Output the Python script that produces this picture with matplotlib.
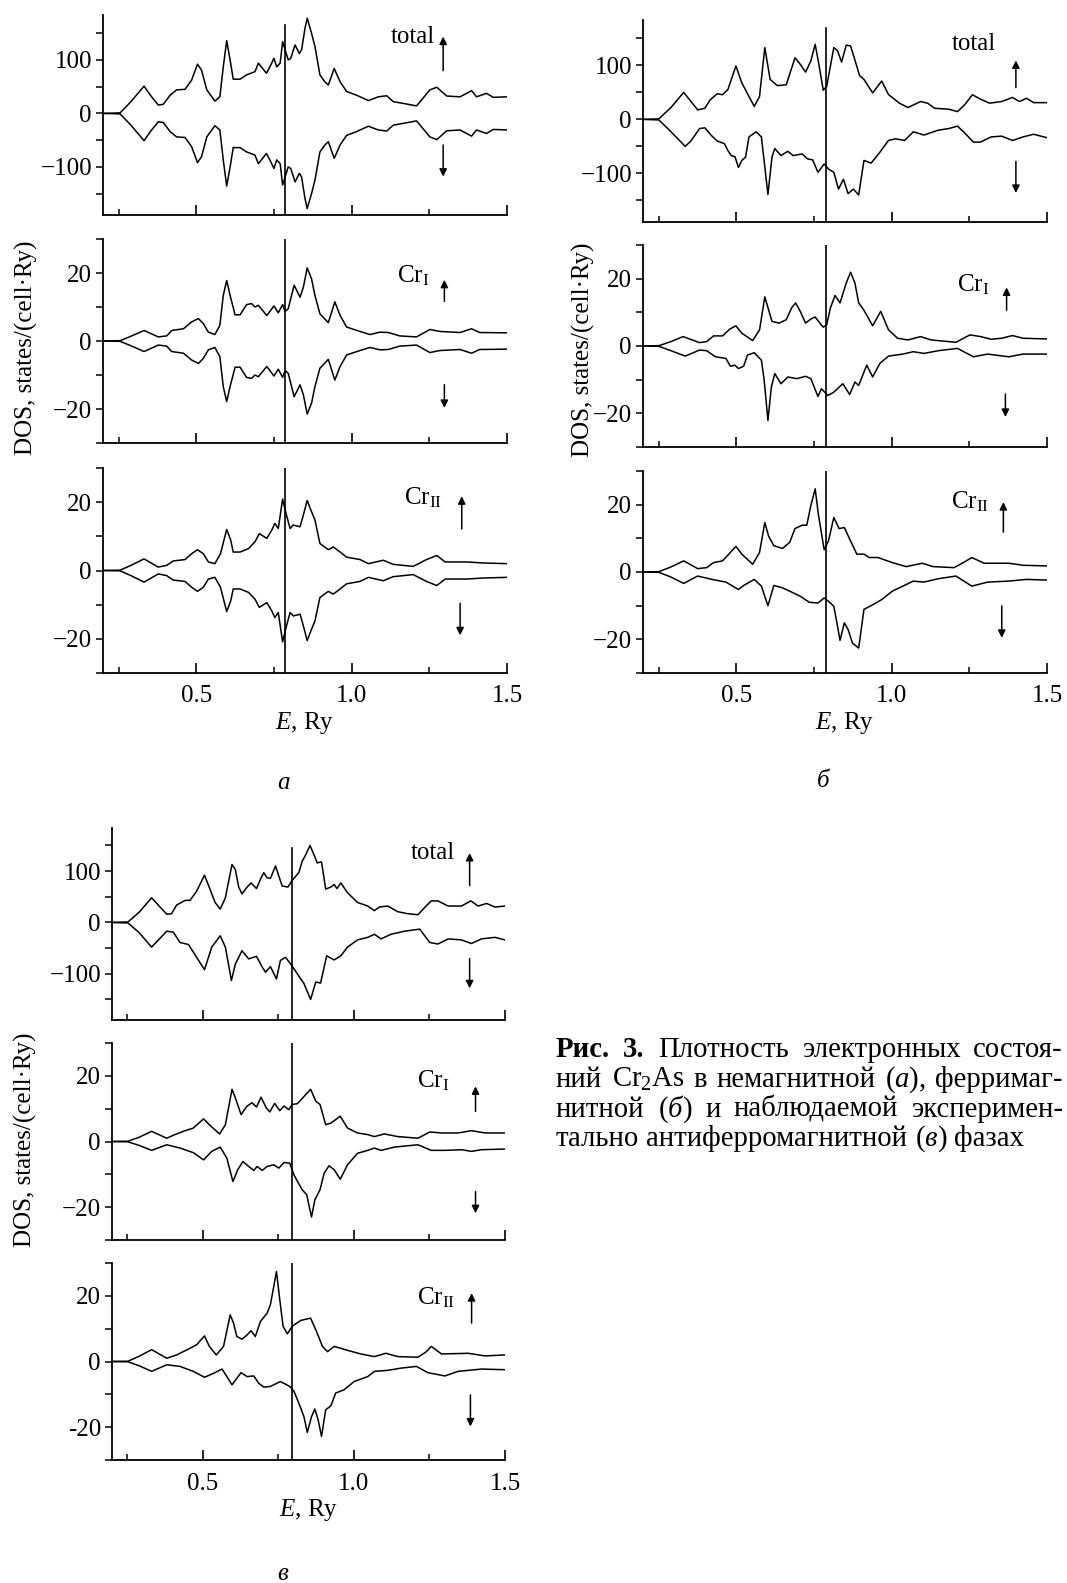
import matplotlib
matplotlib.use('Agg')
import matplotlib.pyplot as plt

plt.rcParams['font.family'] = ['Liberation Serif', 'DejaVu Serif']
plt.rcParams['mathtext.fontset'] = 'custom'
plt.rcParams['mathtext.rm'] = 'Liberation Serif'
plt.rcParams['mathtext.it'] = 'Liberation Serif:italic'
plt.rcParams['mathtext.bf'] = 'Liberation Serif:bold'

# ---------------- data (E in Ry, DOS in states/(cell*Ry)) ----------------
# panel a: nonmagnetic
a_tot_E = [0.20, 0.255, 0.29, 0.332, 0.355, 0.378, 0.394, 0.416, 0.437, 0.464,
           0.485, 0.504, 0.517, 0.534, 0.560, 0.576, 0.587, 0.598, 0.609, 0.619,
           0.641, 0.662, 0.689, 0.700, 0.726, 0.737, 0.750, 0.759, 0.770, 0.778,
           0.786, 0.796, 0.804, 0.818, 0.832, 0.839, 0.850, 0.857, 0.871, 0.882,
           0.898, 0.914, 0.925, 0.944, 0.963, 0.984, 1.016, 1.054, 1.086, 1.113,
           1.134, 1.177, 1.209, 1.252, 1.274, 1.306, 1.349, 1.386, 1.402, 1.434,
           1.456, 1.50]
a_tot_up = [0, 1, 22, 51, 32, 15.6, 17, 34, 44, 45,
            62, 92, 81, 44, 23, 31, 87, 136, 100, 64,
            64, 72, 78, 94, 75, 87, 103, 87, 94, 134,
            119, 100, 103, 128, 112, 119, 159, 178, 150, 125,
            72, 59, 53, 84, 59, 41, 34, 24, 31, 33,
            22, 17.5, 14, 44, 49, 32.5, 31, 42.5, 31, 37.5,
            30, 31]
a_tot_dn = [0, -1, -22, -51, -32, -15.6, -17, -34, -44, -45,
            -62, -92, -81, -44, -23, -31, -87, -136, -100, -64,
            -64, -72, -78, -94, -75, -87, -103, -87, -94, -134,
            -119, -100, -103, -128, -112, -119, -159, -178, -150, -125,
            -72, -59, -53, -84, -59, -41, -34, -24, -31, -33,
            -22, -17.5, -14, -44, -49, -32.5, -31, -42.5, -31, -37.5,
            -30, -31]

a_cr1_E = [0.20, 0.255, 0.29, 0.332, 0.378, 0.405, 0.421, 0.459, 0.485, 0.507,
           0.523, 0.539, 0.560, 0.576, 0.587, 0.598, 0.609, 0.625, 0.641, 0.662,
           0.678, 0.689, 0.700, 0.727, 0.737, 0.750, 0.764, 0.778, 0.786, 0.796,
           0.815, 0.834, 0.845, 0.857, 0.871, 0.882, 0.898, 0.925, 0.946, 0.963,
           0.984, 1.027, 1.059, 1.091, 1.118, 1.155, 1.209, 1.252, 1.284, 1.349,
           1.386, 1.412, 1.50]
a_cr1_up = [0, 0.1, 1.4, 3.1, 1.2, 1.5, 3.1, 3.6, 5.6, 6.6,
            5.1, 2.6, 1.9, 4.6, 13.4, 17.8, 13.4, 7.7, 7.7, 10.7,
            11, 10, 10.5, 7.5, 8.7, 10.3, 8.3, 10.7, 8.7, 9.5,
            16.4, 12.9, 15.9, 21.5, 18.3, 13.4, 8.0, 5.4, 11.5, 7.5,
            4.1, 2.8, 1.9, 2.6, 2.5, 1.5, 1.2, 3.4, 2.8, 2.5,
            3.6, 2.5, 2.4]
a_cr1_dn = [0, -0.1, -1.4, -3.1, -1.2, -1.5, -3.1, -3.6, -5.6, -6.6,
            -5.1, -2.6, -1.9, -4.6, -13.4, -17.8, -13.4, -7.7, -7.7, -10.7,
            -11, -10, -10.5, -7.5, -8.7, -10.3, -8.3, -10.7, -8.7, -9.5,
            -16.4, -12.9, -15.9, -21.5, -18.3, -13.4, -8.0, -5.4, -11.5, -7.5,
            -4.1, -2.8, -1.9, -2.6, -2.5, -1.5, -1.2, -3.4, -2.8, -2.5,
            -3.6, -2.5, -2.4]

a_cr2_E = [0.20, 0.255, 0.29, 0.332, 0.378, 0.405, 0.426, 0.464, 0.485, 0.504,
           0.523, 0.539, 0.560, 0.578, 0.598, 0.611, 0.619, 0.641, 0.668, 0.689,
           0.703, 0.727, 0.743, 0.753, 0.764, 0.778, 0.789, 0.802, 0.812, 0.834,
           0.845, 0.857, 0.871, 0.882, 0.898, 0.925, 0.941, 0.963, 0.984, 1.027,
           1.054, 1.102, 1.134, 1.198, 1.241, 1.274, 1.301, 1.370, 1.424, 1.50]
a_cr2_up = [0, 0.1, 1.5, 3.4, 1.0, 1.5, 2.8, 3.2, 4.9, 6.1,
            4.9, 2.5, 2.0, 4.9, 12.0, 8.9, 5.4, 5.4, 6.4, 8.4,
            10.8, 9.4, 11.8, 13.8, 12.3, 20.9, 16.7, 12.3, 13.3, 12.8,
            16.3, 20.5, 17.2, 14.8, 7.9, 6.1, 6.9, 5.4, 3.9, 3.2,
            2.0, 3.0, 1.8, 1.2, 3.2, 4.4, 2.5, 2.5, 2.2, 2.0]
a_cr2_dn = [0, -0.1, -1.5, -3.4, -1.0, -1.5, -2.8, -3.2, -4.9, -6.1,
            -4.9, -2.5, -2.0, -4.9, -12.0, -8.9, -5.4, -5.4, -6.4, -8.4,
            -10.8, -9.4, -11.8, -13.8, -12.3, -20.9, -16.7, -12.3, -13.3, -12.8,
            -16.3, -20.5, -17.2, -14.8, -7.9, -6.1, -6.9, -5.4, -3.9, -3.2,
            -2.0, -3.0, -1.8, -1.2, -3.2, -4.4, -2.5, -2.5, -2.2, -2.0]

# panel b: ferrimagnetic
b_tot_up_E = [0.20, 0.251, 0.29, 0.331, 0.376, 0.399, 0.416, 0.439, 0.456, 0.473,
              0.499, 0.518, 0.558, 0.575, 0.592, 0.609, 0.632, 0.661, 0.689, 0.706,
              0.723, 0.740, 0.754, 0.765, 0.780, 0.791, 0.814, 0.826, 0.839, 0.854,
              0.868, 0.886, 0.897, 0.911, 0.939, 0.968, 0.990, 1.025, 1.053, 1.093,
              1.116, 1.138, 1.184, 1.212, 1.235, 1.260, 1.286, 1.315, 1.354, 1.389,
              1.411, 1.434, 1.457, 1.50]
b_tot_up = [0, 1, 22, 50, 17.5, 20.6, 36, 47.5, 45.6, 55,
            99, 67.5, 24, 42.5, 133, 74, 62.5, 64, 114, 102,
            87.5, 108, 139, 105, 54, 61, 133, 127, 106, 137.5,
            136, 102, 81, 74, 49, 71, 46, 30, 22, 33,
            30, 20.6, 18.8, 14.4, 27, 45.6, 37.5, 30, 33, 40.6,
            33, 39, 31, 31]
b_tot_dn_E = [0.20, 0.251, 0.285, 0.336, 0.354, 0.382, 0.399, 0.422, 0.439, 0.462,
              0.473, 0.484, 0.496, 0.507, 0.518, 0.530, 0.541, 0.564, 0.581, 0.602,
              0.615, 0.624, 0.644, 0.666, 0.683, 0.712, 0.729, 0.746, 0.763, 0.783,
              0.797, 0.814, 0.829, 0.845, 0.860, 0.877, 0.894, 0.911, 0.934, 0.962,
              0.990, 1.013, 1.042, 1.070, 1.104, 1.150, 1.184, 1.212, 1.235, 1.263,
              1.286, 1.320, 1.354, 1.389, 1.423, 1.457, 1.50]
b_tot_dn = [0, -1, -20, -50, -40, -17, -15.6, -31, -40, -45,
            -57.5, -67, -69, -89, -76, -70, -32.5, -23, -32.5, -139,
            -70, -54, -67, -59, -67, -64, -73, -75, -98, -82.5,
            -92, -98, -129, -111, -137.5, -129, -140, -76, -81, -61,
            -39, -36, -39, -23, -29, -20, -17, -12.5, -25, -42,
            -42, -32.5, -31, -39, -32.5, -27.5, -34]

b_cr1_up_E = [0.20, 0.251, 0.29, 0.329, 0.382, 0.405, 0.427, 0.456, 0.479, 0.499,
              0.518, 0.553, 0.575, 0.592, 0.604, 0.615, 0.638, 0.661, 0.678, 0.691,
              0.706, 0.723, 0.740, 0.754, 0.765, 0.780, 0.791, 0.803, 0.818, 0.834,
              0.854, 0.868, 0.882, 0.894, 0.911, 0.939, 0.965, 0.990, 1.019, 1.053,
              1.093, 1.127, 1.207, 1.252, 1.286, 1.320, 1.354, 1.389, 1.423, 1.50]
b_cr1_up = [0, 0.1, 1.3, 2.8, 1.0, 1.3, 3.0, 3.0, 5.0, 6.0,
            3.8, 1.6, 4.8, 14.6, 10.8, 7.3, 6.8, 7.8, 11.3, 12.8,
            10.3, 6.8, 8.0, 8.6, 7.3, 5.6, 6.3, 11.3, 15.0, 12.8,
            18.7, 21.9, 18.7, 12.8, 10.6, 6.0, 10.3, 4.8, 2.3, 1.8,
            2.8, 1.8, 1.1, 3.3, 2.8, 2.0, 2.3, 3.1, 2.3, 2.1]
b_cr1_dn_E = [0.20, 0.251, 0.29, 0.336, 0.382, 0.405, 0.433, 0.467, 0.481, 0.496,
              0.507, 0.524, 0.536, 0.558, 0.581, 0.590, 0.602, 0.613, 0.624, 0.644,
              0.666, 0.695, 0.723, 0.740, 0.763, 0.774, 0.795, 0.814, 0.843, 0.865,
              0.882, 0.894, 0.920, 0.939, 0.962, 0.990, 1.036, 1.070, 1.104, 1.150,
              1.212, 1.263, 1.309, 1.377, 1.423, 1.50]
b_cr1_dn = [0, -0.1, -1.4, -3.0, -1.2, -1.4, -3.2, -3.7, -6.0, -5.7,
            -6.7, -6.0, -2.7, -2.0, -4.2, -10.2, -22.1, -12.2, -8.2, -11.2,
            -9.2, -9.7, -9.0, -9.7, -15.0, -12.7, -14.7, -13.7, -11.2, -14.4,
            -10.7, -11.7, -5.7, -9.2, -5.2, -3.0, -2.4, -1.7, -2.2, -1.4,
            -0.7, -3.2, -2.4, -3.2, -2.4, -2.4]

b_cr2_up_E = [0.20, 0.251, 0.29, 0.331, 0.376, 0.405, 0.427, 0.456, 0.499, 0.518,
              0.553, 0.575, 0.592, 0.604, 0.621, 0.649, 0.672, 0.689, 0.712, 0.727,
              0.740, 0.754, 0.765, 0.783, 0.797, 0.814, 0.831, 0.848, 0.865, 0.888,
              0.911, 0.928, 0.956, 1.002, 1.047, 1.099, 1.133, 1.201, 1.235, 1.258,
              1.298, 1.377, 1.423, 1.50]
b_cr2_up = [0, 0.1, 1.5, 3.3, 1.0, 1.3, 2.8, 3.3, 7.6, 5.3,
            2.3, 5.8, 14.7, 10.7, 7.8, 7.0, 8.8, 12.9, 13.9, 13.9,
            19.7, 24.7, 16.7, 6.6, 9.3, 16.2, 12.9, 13.2, 9.8, 5.3,
            5.3, 4.3, 4.3, 2.8, 1.6, 2.6, 1.6, 1.3, 3.0, 4.3,
            2.6, 2.6, 2.0, 1.8]
b_cr2_dn_E = [0.20, 0.251, 0.29, 0.331, 0.376, 0.422, 0.467, 0.507, 0.524, 0.558,
              0.581, 0.602, 0.621, 0.649, 0.672, 0.706, 0.735, 0.763, 0.783, 0.803,
              0.814, 0.822, 0.834, 0.848, 0.860, 0.874, 0.894, 0.911, 0.934, 0.968,
              1.002, 1.036, 1.070, 1.104, 1.150, 1.207, 1.258, 1.309, 1.377, 1.434,
              1.50]
b_cr2_dn = [0, -0.1, -1.5, -3.4, -1.2, -2.2, -3.0, -5.2, -4.0, -2.2,
            -4.2, -10, -4.0, -4.7, -5.7, -7.2, -9.0, -9.2, -7.7, -9.2,
            -10.2, -14.1, -20.3, -15.1, -17.1, -21.1, -22.6, -11.1, -10.0, -8.2,
            -5.7, -4.2, -2.7, -3.0, -2.0, -1.2, -4.2, -3.0, -2.7, -2.2,
            -2.4]

# panel v: antiferromagnetic (experimental)
v_tot_up_E = [0.20, 0.253, 0.29, 0.331, 0.381, 0.397, 0.414, 0.442, 0.458, 0.480,
              0.506, 0.522, 0.541, 0.558, 0.575, 0.597, 0.608, 0.619, 0.630, 0.647,
              0.660, 0.678, 0.691, 0.702, 0.713, 0.724, 0.741, 0.752, 0.763, 0.782,
              0.796, 0.818, 0.829, 0.841, 0.855, 0.868, 0.879, 0.893, 0.907, 0.924,
              0.935, 0.944, 0.957, 0.979, 1.012, 1.046, 1.068, 1.084, 1.112, 1.145,
              1.179, 1.212, 1.234, 1.256, 1.278, 1.312, 1.356, 1.387, 1.411, 1.439,
              1.467, 1.50]
v_tot_up = [0, 1, 20, 48, 16, 17, 34, 43, 43, 61,
            92, 68, 39, 26, 48, 113, 103, 69, 56, 69,
            77, 66, 84, 97, 87, 86, 110, 90, 71, 69,
            82, 97, 119, 132, 150, 132, 116, 118, 65, 69,
            74, 66, 77, 58, 39, 32, 23, 30, 32, 21,
            17, 15, 29, 42, 42, 32, 32, 42, 32, 37,
            30, 32]
v_tot_dn_E = [0.20, 0.253, 0.29, 0.331, 0.381, 0.403, 0.425, 0.453, 0.480, 0.506,
              0.530, 0.558, 0.575, 0.595, 0.608, 0.630, 0.652, 0.678, 0.697, 0.708,
              0.724, 0.744, 0.757, 0.774, 0.791, 0.813, 0.835, 0.857, 0.874, 0.890,
              0.910, 0.935, 0.957, 0.979, 1.012, 1.046, 1.068, 1.090, 1.123, 1.168,
              1.218, 1.251, 1.278, 1.312, 1.356, 1.389, 1.422, 1.467, 1.50]
v_tot_dn = [0, -1, -20, -48, -17, -19, -39, -43, -68, -92,
            -48, -26, -48, -113, -81, -55, -71, -66, -87, -97,
            -86, -110, -74, -68, -81, -100, -119, -150, -116, -118,
            -65, -73, -65, -48, -34, -29, -23, -32, -23, -17,
            -13, -39, -42, -32, -34, -41, -32, -29, -34]

v_cr1_up_E = [0.20, 0.253, 0.29, 0.331, 0.381, 0.408, 0.442, 0.469, 0.503, 0.522,
              0.556, 0.575, 0.597, 0.608, 0.627, 0.647, 0.663, 0.678, 0.693, 0.710,
              0.722, 0.738, 0.755, 0.769, 0.785, 0.796, 0.813, 0.829, 0.857, 0.874,
              0.888, 0.907, 0.924, 0.955, 0.979, 1.012, 1.046, 1.068, 1.101, 1.145,
              1.212, 1.251, 1.290, 1.345, 1.389, 1.434, 1.50]
v_cr1_up = [0, 0.1, 1.3, 3.1, 1.0, 2.1, 3.3, 4.1, 6.9, 5.1,
            2.3, 5.1, 15.9, 13.3, 8.2, 10.8, 11.8, 10.5, 13.5, 10.3,
            9.0, 11.6, 9.4, 10.8, 9.7, 11.3, 11.5, 13.1, 15.9, 12.3,
            11.3, 5.1, 5.6, 7.7, 4.1, 2.6, 2.1, 1.5, 2.3, 1.5,
            1.0, 2.9, 2.6, 2.6, 3.3, 2.6, 2.6]
v_cr1_dn_E = [0.20, 0.253, 0.29, 0.331, 0.381, 0.425, 0.469, 0.503, 0.530, 0.558,
              0.580, 0.600, 0.616, 0.633, 0.652, 0.669, 0.680, 0.697, 0.713, 0.735,
              0.752, 0.769, 0.788, 0.802, 0.829, 0.844, 0.860, 0.871, 0.888, 0.902,
              0.918, 0.935, 0.955, 0.979, 1.012, 1.046, 1.068, 1.090, 1.134, 1.212,
              1.256, 1.301, 1.356, 1.389, 1.422, 1.50]
v_cr1_dn = [0, -0.1, -1.2, -2.7, -1.0, -2.0, -3.4, -5.6, -3.0, -1.7,
            -5.1, -12.2, -8.6, -6.1, -7.6, -8.8, -7.6, -8.8, -7.6, -7.1,
            -8.1, -6.4, -6.6, -10.2, -14.7, -16.2, -23.0, -17.8, -14.7, -9.6,
            -7.4, -8.6, -11.5, -7.1, -3.6, -2.7, -2.0, -2.7, -1.7, -1.0,
            -2.7, -2.7, -2.5, -3.0, -2.5, -2.3]

v_cr2_up_E = [0.20, 0.253, 0.29, 0.331, 0.381, 0.414, 0.453, 0.480, 0.506, 0.522,
              0.545, 0.569, 0.591, 0.602, 0.613, 0.630, 0.647, 0.660, 0.674, 0.691,
              0.713, 0.724, 0.735, 0.744, 0.755, 0.766, 0.780, 0.796, 0.824, 0.857,
              0.879, 0.896, 0.913, 0.935, 0.979, 1.023, 1.068, 1.106, 1.145, 1.212,
              1.240, 1.256, 1.290, 1.379, 1.434, 1.50]
v_cr2_up = [0, 0.1, 1.6, 3.6, 1.0, 2.0, 3.8, 5.1, 7.8, 4.6,
            2.0, 4.6, 14.2, 11.7, 7.6, 6.8, 8.1, 9.4, 7.6, 12.2,
            14.7, 17.3, 22.8, 27.4, 18.8, 10.7, 8.4, 10.7, 12.5, 13.2,
            8.6, 4.6, 3.0, 4.6, 3.4, 2.3, 1.5, 2.5, 1.5, 1.3,
            3.0, 4.6, 2.3, 2.5, 1.7, 2.0]
v_cr2_dn_E = [0.20, 0.253, 0.29, 0.331, 0.381, 0.425, 0.469, 0.506, 0.536, 0.564,
              0.580, 0.597, 0.613, 0.627, 0.647, 0.669, 0.685, 0.702, 0.724, 0.757,
              0.788, 0.802, 0.818, 0.835, 0.846, 0.860, 0.871, 0.882, 0.893, 0.907,
              0.924, 0.940, 0.968, 1.001, 1.046, 1.068, 1.112, 1.157, 1.207, 1.245,
              1.301, 1.345, 1.423, 1.50]
v_cr2_dn = [0, -0.1, -1.3, -3.0, -1.0, -1.5, -3.0, -4.8, -3.6, -2.3,
            -4.6, -7.1, -5.1, -3.4, -4.6, -4.4, -6.6, -7.8, -7.6, -6.1,
            -7.6, -9.1, -12.7, -16.8, -21.6, -16.8, -14.5, -17.8, -22.8, -14.7,
            -13.5, -9.6, -8.6, -6.1, -4.6, -3.0, -2.7, -2.0, -1.5, -3.4,
            -4.4, -3.0, -2.3, -2.5]

fermi = {'a': 0.786, 'b': 0.790, 'v': 0.794}
sub_names = ['total', 'Cr$_{\\rm I}$', 'Cr$_{\\rm II}$']

curves = {
    'a': [(a_tot_E, a_tot_up, a_tot_E, a_tot_dn),
          (a_cr1_E, a_cr1_up, a_cr1_E, a_cr1_dn),
          (a_cr2_E, a_cr2_up, a_cr2_E, a_cr2_dn)],
    'b': [(b_tot_up_E, b_tot_up, b_tot_dn_E, b_tot_dn),
          (b_cr1_up_E, b_cr1_up, b_cr1_dn_E, b_cr1_dn),
          (b_cr2_up_E, b_cr2_up, b_cr2_dn_E, b_cr2_dn)],
    'v': [(v_tot_up_E, v_tot_up, v_tot_dn_E, v_tot_dn),
          (v_cr1_up_E, v_cr1_up, v_cr1_dn_E, v_cr1_dn),
          (v_cr2_up_E, v_cr2_up, v_cr2_dn_E, v_cr2_dn)],
}

# ---------------- layout (pixels) ----------------
W, H = 1067, 1583
fig = plt.figure(figsize=(W / 100, H / 100), dpi=100)

boxes = {
    'a': (103, 507, [(15, 215), (239, 443), (468, 673)]),
    'b': (643, 1047, [(20, 222), (245, 447), (471, 673)]),
    'v': (112, 505, [(828, 1020), (1043, 1240), (1263, 1460)]),
}
vline_top = {'a': 0.95, 'b': 0.96, 'v': 0.896}

# label right edge, label baseline, up arrow (x, y0, y1), down arrow (x, y0, y1)
marks = {
    'a': [(0.821, 0.86, (0.842, 0.722, 0.892), (0.842, 0.35, 0.192)),
          (0.809, 0.785, (0.845, 0.694, 0.80), (0.845, 0.286, 0.172)),
          (0.838, 0.822, (0.888, 0.703, 0.862), (0.884, 0.34, 0.184))],
    'b': [(0.875, 0.852, (0.923, 0.665, 0.80), (0.923, 0.30, 0.144)),
          (0.857, 0.77, (0.90, 0.677, 0.79), (0.897, 0.262, 0.149)),
          (0.857, 0.814, (0.892, 0.697, 0.846), (0.888, 0.332, 0.174))],
    'v': [(0.872, 0.838, (0.91, 0.70, 0.87), (0.91, 0.32, 0.165)),
          (0.859, 0.774, (0.925, 0.653, 0.78), (0.925, 0.246, 0.136)),
          (0.872, 0.79, (0.915, 0.695, 0.847), (0.912, 0.33, 0.17))],
}

FS = 18


def arrow(ax, x, y0, y1):
    ax.annotate('', xy=(x, y1), xytext=(x, y0), xycoords='axes fraction',
                arrowprops=dict(arrowstyle='-|>', color='k', lw=1.1,
                                mutation_scale=11, shrinkA=0, shrinkB=0))


for key in ['a', 'b', 'v']:
    left, right, rows = boxes[key]
    for i, (top, bottom) in enumerate(rows):
        ax = fig.add_axes([left / W, 1 - bottom / H, (right - left) / W, (bottom - top) / H])
        xu, yu, xd, yd = curves[key][i]
        ax.plot(xu, yu, color='k', lw=1.1)
        ax.plot(xd, yd, color='k', lw=1.1)
        ax.axvline(fermi[key], ymin=0, ymax=vline_top[key] if i == 0 else 1,
                   color='k', lw=1.2)

        ax.set_xlim(0.2, 1.5)
        ax.set_xticks([0.5, 1.0, 1.5])
        ax.set_xticks([0.25, 0.75, 1.25], minor=True)
        if i == 0:
            ax.set_ylim(-190, 184)
            ax.set_yticks([-100, 0, 100])
            ax.set_yticklabels(['\u2212100', '0', '100'])
            ax.set_yticks([-150, -50, 50, 150], minor=True)
        else:
            ax.set_ylim(-30, 30)
            ax.set_yticks([-20, 0, 20])
            neg = '-20' if (key == 'v' and i == 2) else '\u221220'
            ax.set_yticklabels([neg, '0', '20'])
            ax.set_yticks([-30, -10, 10, 30], minor=True)

        for s in ['top', 'right']:
            ax.spines[s].set_visible(False)
        for s in ['left', 'bottom']:
            ax.spines[s].set_linewidth(1.3)
        ax.tick_params(axis='x', which='major', direction='in', length=7, width=1.2,
                       labelsize=FS, pad=9)
        ax.tick_params(axis='x', which='minor', direction='in', length=4.5, width=1.1)
        ax.tick_params(axis='y', which='both', direction='out', length=5, width=1.1,
                       labelsize=FS, pad=3)
        if i < 2:
            ax.tick_params(axis='x', labelbottom=False)
        else:
            ax.set_xlabel('$E$, Ry', fontsize=FS, labelpad=2)

        xr, yb, up, dn = marks[key][i]
        ax.text(xr, yb, sub_names[i], transform=ax.transAxes, ha='right',
                va='baseline', fontsize=FS)
        arrow(ax, *up)
        arrow(ax, *dn)

ylab = 'DOS, states/(cell\u00b7Ry)'
for x, y in [(26, 348), (583, 350), (25, 1140)]:
    fig.text(x / W, 1 - y / H, ylab, rotation=90, ha='center', va='center', fontsize=FS)

for x, y, t in [(283, 783, '\u0430'), (823, 781, '\u0431'), (283, 1574, '\u0432')]:
    fig.text(x / W, 1 - y / H, t, ha='center', va='center', fontsize=FS, style='italic')

# ---------------- caption (justified) ----------------
cap_lines = [
    [('Рис.', 'bold'), ('3.', 'bold'), ('Плотность', 'normal'),
     ('электронных', 'normal'), ('состоя-', 'normal')],
    [('ний', 'normal'), ('Cr$_2$As', 'normal'), ('в', 'normal'),
     ('немагнитной', 'normal'), ('($\\mathit{а}$),', 'normal'), ('ферримаг-', 'normal')],
    [('нитной', 'normal'), ('($\\mathit{б}$)', 'normal'), ('и', 'normal'),
     ('наблюдаемой', 'normal'), ('эксперимен-', 'normal')],
    [('тально', 'normal'), ('антиферромагнитной', 'normal'),
     ('($\\mathit{в}$)', 'normal'), ('фазах', 'normal')],
]
cx0, cx1 = 556, 1063
last_right = 1026
baselines = [1057, 1087, 1117, 1146]
renderer = fig.canvas.get_renderer()

CFS = 14
lines_t = []
for line, yb in zip(cap_lines, baselines):
    row = []
    for word, weight in line:
        t = fig.text(0, 1 - yb / H, word, fontsize=CFS, fontweight=weight,
                     ha='left', va='baseline')
        row.append(t)
    lines_t.append(row)

# size the caption font so the last (unjustified) line ends where it does in the reference
last_w = sum(t.get_window_extent(renderer).width for t in lines_t[-1])
last_w += (len(lines_t[-1]) - 1) * 0.25 * CFS * 100 / 72
CFS = CFS * (last_right - cx0) / last_w
space = 0.25 * CFS * 100 / 72

for k, row in enumerate(lines_t):
    widths = []
    for t in row:
        t.set_fontsize(CFS)
        widths.append(t.get_window_extent(renderer).width)
    if k == len(lines_t) - 1:
        gap = space
    else:
        gap = (cx1 - cx0 - sum(widths)) / (len(row) - 1)
    x = cx0
    for t, w in zip(row, widths):
        t.set_x(x / W)
        x += w + gap

fig.savefig('out.png', dpi=100)
